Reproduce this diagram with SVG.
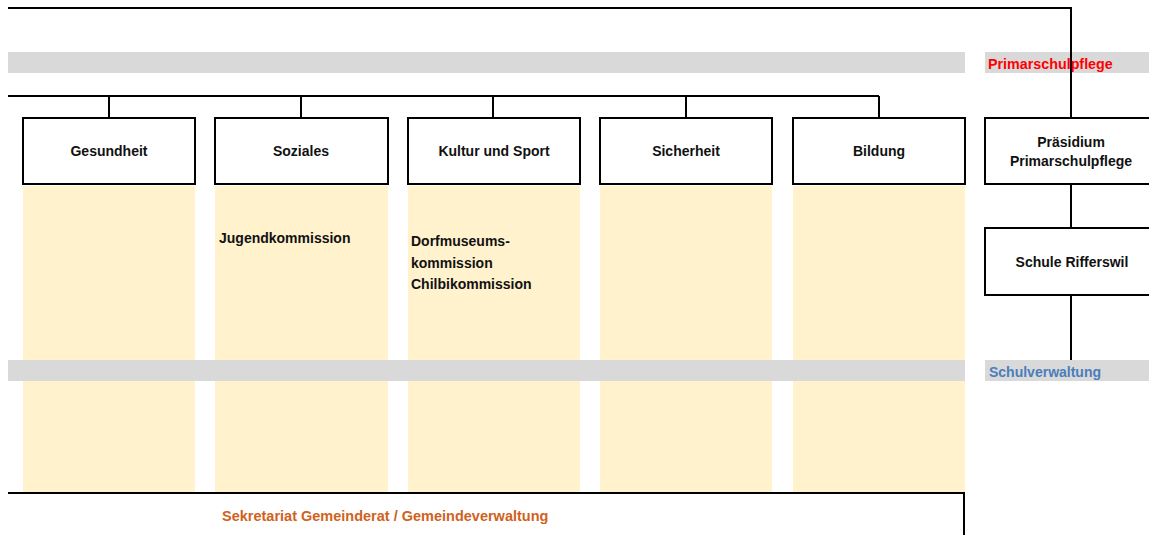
<svg xmlns="http://www.w3.org/2000/svg" width="1149" height="535" viewBox="0 0 1149 535">
  <style>
    .band { fill: #d9d9d9; }
    .col { fill: #fff2cc; }
    .box { fill: #ffffff; stroke: #000000; stroke-width: 2; }
    .line { fill: none; stroke: #000000; stroke-width: 2; }
    .t { font-family: "Liberation Sans", Arial, sans-serif; font-size: 14px; font-weight: bold; fill: #111111; }
    .c { text-anchor: middle; }
    .red { fill: #ff0000; font-size: 14.3px; }
    .blue { fill: #4a7ebb; }
    .orange { fill: #d0621c; font-size: 14.5px; }
  </style>

  <rect width="1149" height="535" fill="#ffffff"/>

  <!-- yellow area columns under each department -->
  <g id="columns">
    <rect class="col" x="23" y="186" width="172" height="306"/>
    <rect class="col" x="215" y="186" width="173" height="306"/>
    <rect class="col" x="408" y="186" width="172" height="306"/>
    <rect class="col" x="600" y="186" width="172" height="306"/>
    <rect class="col" x="793" y="186" width="172" height="306"/>
  </g>

  <!-- grey level bands -->
  <g id="bands">
    <rect class="band" x="8" y="52" width="957" height="21"/>
    <rect class="band" x="985" y="52" width="164" height="21"/>
    <rect class="band" x="8" y="360" width="957" height="21"/>
    <rect class="band" x="985" y="360" width="164" height="21"/>
  </g>

  <!-- connectors -->
  <g id="connectors">
    <path class="line" d="M8 8 H1071 V118"/>
    <path class="line" d="M8 96 H879"/>
    <path class="line" d="M109 96 V118 M301 96 V118 M493 96 V118 M686 96 V118 M879 96 V118"/>
    <path class="line" d="M1071 184 V228 M1071 296 V360"/>
    <path class="line" d="M8 493 H964 V535"/>
  </g>

  <g id="band-labels">
    <text class="t red" x="988" y="69">Primarschulpflege</text>
    <text class="t blue" x="989" y="377">Schulverwaltung</text>
  </g>

  <g id="gesundheit">
    <rect class="box" x="23" y="118" width="172" height="66"/>
    <text class="t c" x="109" y="156">Gesundheit</text>
  </g>
  <g id="soziales">
    <rect class="box" x="215" y="118" width="173" height="66"/>
    <text class="t c" x="301" y="156">Soziales</text>
    <text class="t" x="219" y="243">Jugendkommission</text>
  </g>
  <g id="kultur">
    <rect class="box" x="408" y="118" width="172" height="66"/>
    <text class="t c" x="494" y="156">Kultur und Sport</text>
    <text class="t" x="411" y="246">Dorfmuseums-</text>
    <text class="t" x="411" y="268">kommission</text>
    <text class="t" x="411" y="289">Chilbikommission</text>
  </g>
  <g id="sicherheit">
    <rect class="box" x="600" y="118" width="172" height="66"/>
    <text class="t c" x="686" y="156">Sicherheit</text>
  </g>
  <g id="bildung">
    <rect class="box" x="793" y="118" width="172" height="66"/>
    <text class="t c" x="879" y="156">Bildung</text>
  </g>

  <g id="praesidium">
    <rect class="box" x="985" y="118" width="174" height="66"/>
    <text class="t c" x="1071" y="147">Präsidium</text>
    <text class="t c" x="1071" y="166">Primarschulpflege</text>
  </g>
  <g id="schule">
    <rect class="box" x="985" y="228" width="174" height="67"/>
    <text class="t c" x="1072" y="267">Schule Rifferswil</text>
  </g>

  <g id="sekretariat">
    <text class="t orange" x="222" y="521">Sekretariat Gemeinderat / Gemeindeverwaltung</text>
  </g>
</svg>
